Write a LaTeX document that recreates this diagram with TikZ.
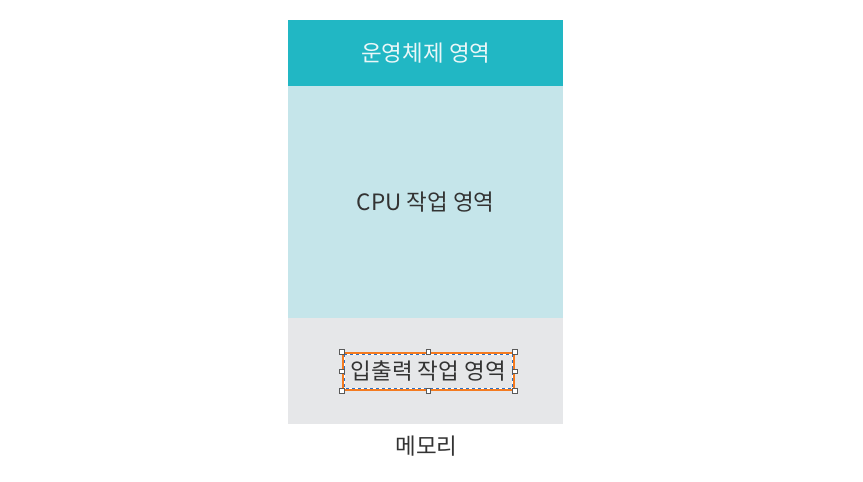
\documentclass[tikz,border=0pt]{standalone}
\usepackage{fontspec}
\newfontfamily\kr{Noto Sans CJK KR}
\definecolor{osteal}{HTML}{21B7C4}
\definecolor{cpublue}{HTML}{C5E5EA}
\definecolor{iogray}{HTML}{E6E7E9}
\definecolor{txtdark}{HTML}{333333}
\definecolor{txtlight}{HTML}{EAF7F8}
\definecolor{selorange}{HTML}{F47B20}
\definecolor{selblue}{HTML}{2F6FC0}
\definecolor{handlegray}{HTML}{5A5A5A}
\tikzset{
  band/.style={draw=none, minimum width=275, inner sep=0, outer sep=0, font=\kr\fontsize{22.5}{26}\selectfont, text=txtdark},
  selbox/.style={draw=selorange, line width=2.4, minimum width=170, minimum height=37, inner sep=0, font=\kr\fontsize{22.5}{26}\selectfont, text=txtdark},
  handle/.style={draw=handlegray, fill=white, line width=0.7, minimum size=4.8, inner sep=0},
  caption/.style={font=\kr\fontsize{22.5}{26}\selectfont, text=txtdark}
}
\begin{document}
\begin{tikzpicture}[x=1pt,y=-1pt]
\useasboundingbox[fill=white] (0,0) rectangle (863,482);
\node[band, fill=osteal, minimum height=65.5, text=txtlight] (os) at (425.8,52.75) {운영체제 영역};
\node[band, fill=cpublue, minimum height=232.8] (cpu) at (425.8,201.9) {CPU 작업 영역};
\node[band, fill=iogray, minimum height=105.2] (io) at (425.8,370.9) {};
\node[selbox] (sel) at (428.3,371.3) {입출력 작업 영역};
\draw[white, line width=0.7] ([shift={(2.4,2.4)}]sel.north west) rectangle ([shift={(-2.4,-2.4)}]sel.south east);
\draw[selblue, line width=0.7, dash pattern=on 3pt off 3pt] ([shift={(2.4,2.4)}]sel.north west) rectangle ([shift={(-2.4,-2.4)}]sel.south east);
\foreach \a in {north west,north,north east,east,south east,south,south west,west}
  \node[handle] at (sel.\a) {};
\node[caption] (mem) at (426.5,446.5) {메모리};
\end{tikzpicture}
\end{document}
